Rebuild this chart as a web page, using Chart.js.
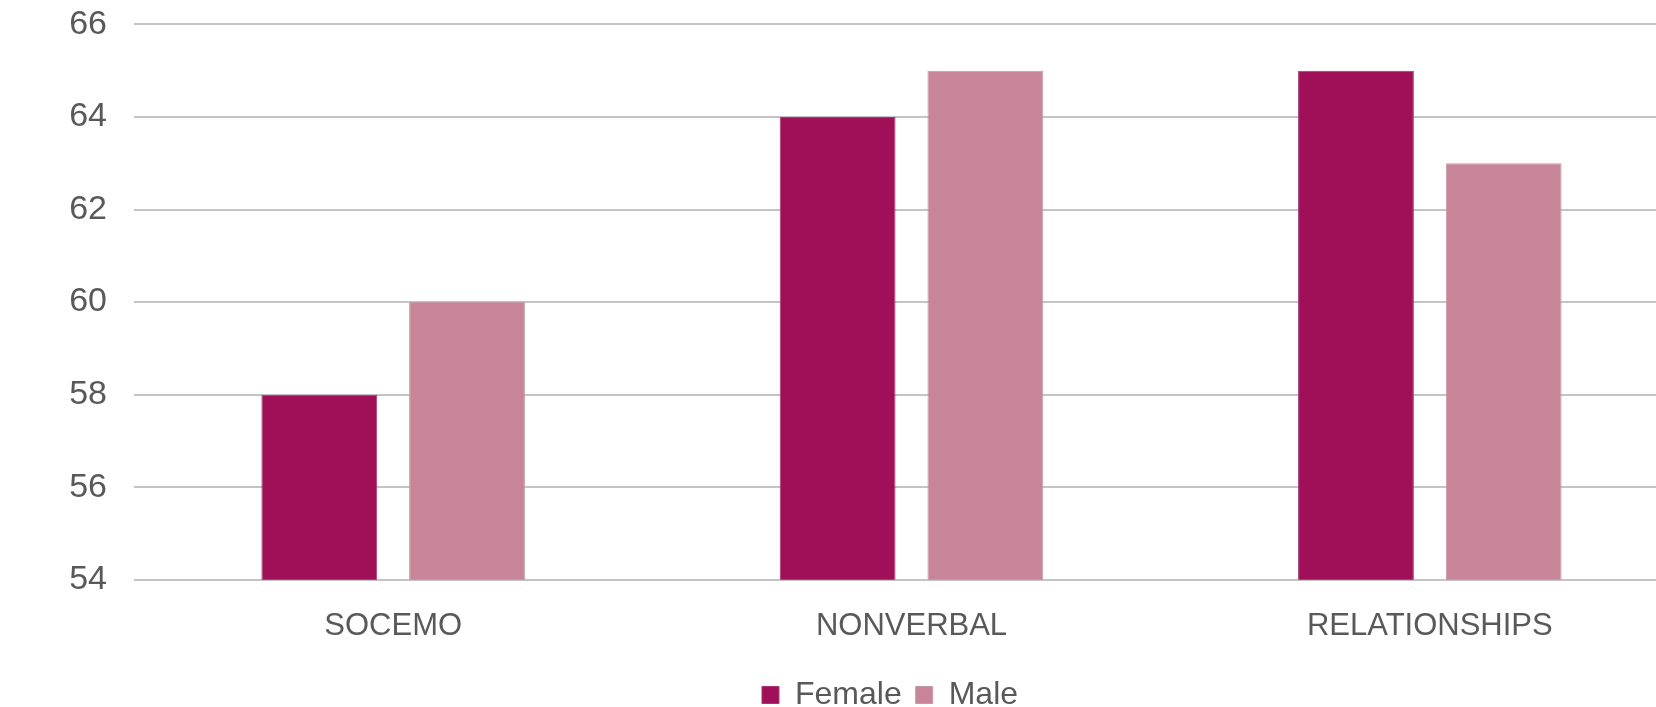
<!DOCTYPE html>
<html>
<head>
<meta charset="utf-8">
<script src="https://cdn.jsdelivr.net/npm/chart.js@4/dist/chart.umd.min.js"></script>
<style>
    html, body { margin: 0; padding: 0; background: #fff; overflow: hidden; }
    #wrap { position: absolute; left: 0; top: -23px; width: 1700px; height: 744px; }
</style>
</head>
<body>
<div id="wrap"><canvas id="barChart"></canvas></div>
<script>
const categorias = ['SOCEMO', 'NONVERBAL', 'RELATIONSHIPS'];
const female = [58, 64, 65];
const male = [60, 65, 63];
const yMin = 54;
const yMax = 66;
const yStep = 2;

const fuente = "'Liberation Sans', Arial, sans-serif";

document.addEventListener('DOMContentLoaded', function() {
    const ctx = document.getElementById('barChart').getContext('2d');

    new Chart(ctx, {
        type: 'bar',
        data: {
            labels: categorias,
            datasets: [
                {
                    label: 'Female',
                    data: female,
                    backgroundColor: '#9F1058',
                    borderColor: '#A8336E',
                    borderWidth: 1,
                    categoryPercentage: 0.57,
                    barPercentage: 0.784
                },
                {
                    label: 'Male',
                    data: male,
                    backgroundColor: '#C8859A',
                    borderColor: '#C49AA8',
                    borderWidth: 1,
                    categoryPercentage: 0.57,
                    barPercentage: 0.784
                }
            ]
        },
        options: {
            responsive: true,
            maintainAspectRatio: false,
            animation: false,
            // padding izquierdo grande para centrar la leyenda como en el original
            layout: { padding: { left: 91, right: 11, top: 0, bottom: 0 } },
            plugins: {
                legend: {
                    position: 'bottom',
                    labels: {
                        boxWidth: 17,
                        boxHeight: 17,
                        padding: 14,
                        color: '#595959',
                        font: { family: fuente, size: 32 }
                    }
                },
                tooltip: { enabled: false }
            },
            scales: {
                x: {
                    grid: { display: false },
                    border: { display: false },
                    ticks: {
                        color: '#595959',
                        padding: 20,
                        font: { family: fuente, size: 31 }
                    }
                },
                y: {
                    min: yMin,
                    max: yMax,
                    afterFit: function(scale) { scale.width = 43; },
                    grid: { color: '#c4c4c4', lineWidth: 2, drawTicks: false },
                    border: { display: false },
                    ticks: {
                        stepSize: yStep,
                        color: '#595959',
                        padding: 27,
                        font: { family: fuente, size: 34 }
                    }
                }
            }
        },
        plugins: [{
            // el eje y es angosto; se amplía su zona de recorte para que los números se vean
            id: 'ejeIzquierdo',
            afterLayout: function(chart) { chart.scales.y.left = 0; }
        }]
    });
});
</script>
</body>
</html>
